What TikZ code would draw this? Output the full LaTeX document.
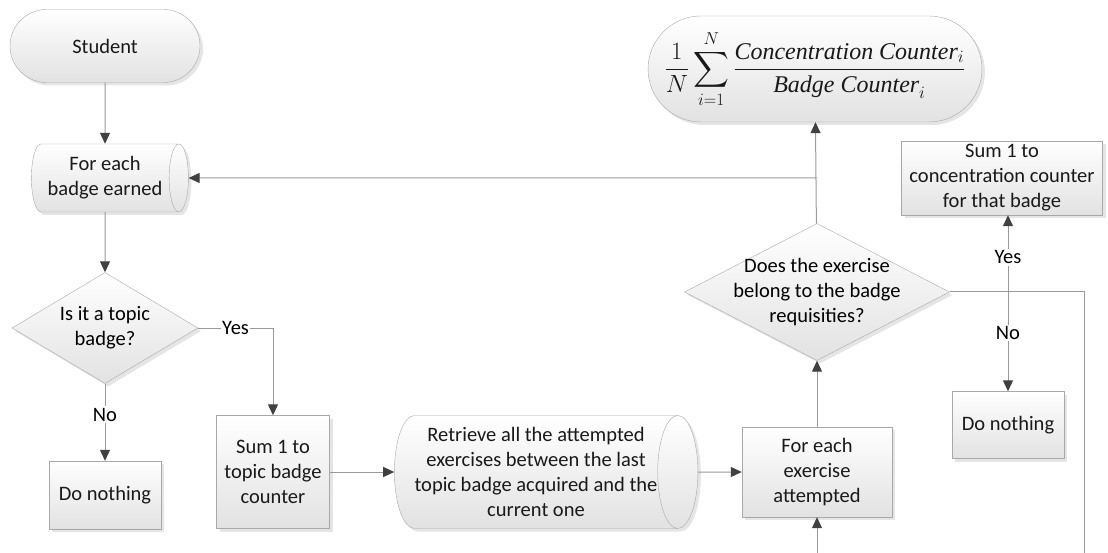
\documentclass[tikz,border=0pt]{standalone}
\usepackage{fontspec}
\usepackage{amsmath}
\setmainfont{Carlito}
\newfontfamily\formfont{Liberation Serif}
\usetikzlibrary{shapes.geometric,shapes.misc,arrows.meta,shadows}
\definecolor{linegray}{HTML}{9A9A9A}
\definecolor{tipgray}{HTML}{404040}
\definecolor{boxgray}{HTML}{A8A8A8}
\definecolor{shadegray}{HTML}{E2E2E2}

\begin{document}
\begin{tikzpicture}[x=1pt,y=-1pt,
  font=\fontsize{20.5}{25}\selectfont,
  shapebase/.style={draw=boxgray,top color=white,bottom color=shadegray,
    drop shadow={shadow xshift=3pt,shadow yshift=-3pt,opacity=0.25,fill=black!40},
    align=center,inner sep=0pt,text=black!90},
  terminal/.style={shapebase,rounded rectangle},
  process/.style={shapebase,rectangle},
  loopbox/.style={shapebase,cylinder,aspect=0.45},
  decision/.style={shapebase,diamond},
  conn/.style={draw=linegray,line width=1pt,-{Triangle[length=11pt,width=10pt,color=tipgray]}},
  plain/.style={draw=linegray,line width=1pt},
  lbl/.style={fill=white,inner sep=1.5pt}
]
\useasboundingbox (0,0) rectangle (1108,553);

\node[terminal,minimum width=190pt,minimum height=73pt] (student) at (105,46) {Student};
% cylinder: minimum height runs along its axis
\node[loopbox,minimum height=157pt,minimum width=68pt] (badgeloop) at (105,178) {For each\\badge earned};
\node[decision,minimum width=186pt,minimum height=111pt] (topic) at (105,328) {};
\node[align=center] (topictext) at (topic) {Is it a topic\\badge?};
\node[process,minimum width=112pt,minimum height=68pt] (nothingA) at (105,495) {Do nothing};
\node[process,minimum width=113pt,minimum height=113pt] (sumtopic) at (273,472) {Sum 1 to\\topic badge\\counter};
\node[loopbox,minimum height=295pt,minimum width=113pt] (retrieve) at (536,472) {Retrieve all the attempted\\exercises between the last\\topic badge acquired and the\\current one};
\node[process,minimum width=150pt,minimum height=90pt] (exloop) at (817,472) {For each\\exercise\\attempted};
\node[decision,minimum width=265pt,minimum height=137pt] (belong) at (817,292) {};
\node[align=center] (belongtext) at (belong) {Does the exercise\\belong to the badge\\requisities?};
\node[terminal,minimum width=315pt,minimum height=106pt] (formula) at (815,69)
  {\fontsize{24}{28}\selectfont$\displaystyle\frac{1}{N}\sum_{i=1}^{N}\frac{\text{\formfont\itshape Concentration Counter}_i}{\text{\formfont\itshape Badge Counter}_i}$};
\node[process,minimum width=201pt,minimum height=74pt] (sumconc) at (1002,178) {Sum 1 to\\concentration counter\\for that badge};
\node[process,minimum width=112pt,minimum height=67pt] (nothingB) at (1008,425) {Do nothing};

\coordinate (joinup) at (817,178);
\coordinate (crossing) at (1008,292);
\coordinate (rightturn) at (1084,292);
\coordinate (rightout) at (1084,553);
\coordinate (bottomin) at (817,553);

\draw[conn] (student) -- (badgeloop);
\draw[conn] (badgeloop) -- (topic);
\draw[conn] (topic) -- node[lbl,pos=0.4] {No} (nothingA);
\draw[conn] (topic.east) -| node[lbl,pos=0.25] {Yes} (sumtopic.north);
\draw[conn] (sumtopic) -- (retrieve);
\draw[conn] (retrieve) -- (exloop);
\draw[conn] (exloop) -- (belong);
\draw[conn] (belong) -- (formula);
\draw[conn] (joinup) -- (badgeloop);
\draw[conn] (crossing) -- node[lbl,pos=0.45] {Yes} (crossing |- sumconc.south);
\draw[conn] (crossing) -- node[lbl,pos=0.41] {No} (nothingB);
\draw[plain] (belong.east) -- (rightturn) -- (rightout);
\draw[conn] (bottomin) -- (exloop);
\end{tikzpicture}
\end{document}
